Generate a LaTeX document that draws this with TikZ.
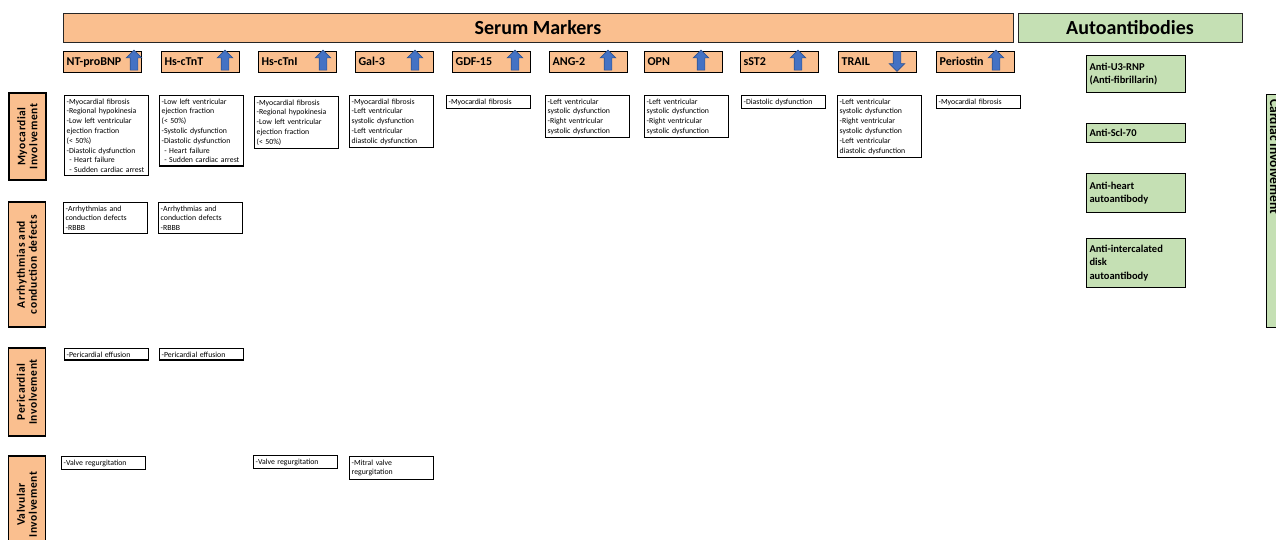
\documentclass[tikz,border=0pt]{standalone}
\usepackage{fontspec}
\setmainfont{Carlito}
\newfontfamily\labfont[LetterSpace=5]{Carlito}
\definecolor{mypeach}{RGB}{250,191,143}
\definecolor{mygreen}{RGB}{197,224,180}
\definecolor{myblue}{RGB}{68,114,196}
\definecolor{mynavy}{RGB}{47,82,143}
\usetikzlibrary{shapes.arrows,positioning}

\begin{document}
\begin{tikzpicture}[
  x=1pt, y=-1pt,
  hdbox/.style={
    draw=black!85,
    line width=1pt,
    minimum height=29pt,
    font=\fontsize{20}{24}\selectfont\bfseries
    },
  mkbox/.style={
    draw,
    line width=1.2pt,
    fill=mypeach,
    anchor=north west,
    minimum height=21pt,
    text width=72pt,
    text height=8.5pt,
    text depth=2.5pt,
    inner xsep=3pt,
    align=left,
    font=\fontsize{12}{14}\selectfont\bfseries
    },
  fxbox/.style={
    draw,
    line width=1.3pt,
    anchor=north west,
    text width=80pt,
    inner xsep=2pt,
    inner ysep=3pt,
    align=left,
    font=\fontsize{7.8}{9.8}\selectfont
    },
  rowlab/.style={
    draw,
    line width=1.6pt,
    fill=mypeach,
    rotate=90,
    minimum height=37pt,
    align=center,
    font=\labfont\fontsize{11.5}{12}\selectfont\bfseries
    },
  abbox/.style={
    draw,
    line width=1pt,
    fill=mygreen,
    anchor=north west,
    text width=93pt,
    inner xsep=3pt,
    align=left,
    font=\fontsize{10.5}{13.3}\selectfont\bfseries
    },
  uparr/.style={
    single arrow,
    draw=mynavy,
    fill=myblue,
    line width=0.6pt,
    rotate=90,
    minimum height=20pt,
    minimum width=15pt,
    inner xsep=0pt,
    inner ysep=3.5pt,
    single arrow head extend=4pt
    },
  dnarr/.style={uparr, rotate=180}
]
\useasboundingbox (0,0) rectangle (1276,539);
\clip (0,0) rectangle (1276,539);

\node [hdbox, fill=mypeach, minimum width=950pt] (serum) at (538,27.5) {Serum Markers};
\node [hdbox, fill=mygreen, minimum width=224pt] (autoab) at (1130,27.5) {Autoantibodies};

\node [mkbox] (ntprobnp) at (63,51) {NT-proBNP};
\node [mkbox] (hsctnt) at (161,51) {Hs-cTnT};
\node [mkbox] (hsctni) at (258,51) {Hs-cTnI};
\node [mkbox] (gal) at (355,51) {Gal-3};
\node [mkbox] (gdf) at (452,51) {GDF-15};
\node [mkbox] (ang) at (549,51) {ANG-2};
\node [mkbox] (opn) at (644,51) {OPN};
\node [mkbox] (sst) at (740,51) {sST2};
\node [mkbox] (trail) at (838,51) {TRAIL};
\node [mkbox] (periostin) at (936,51) {Periostin};

\node [uparr] (ntprobnpup) at (134,62) {};
\node [uparr] (hsctntup) at (225,62) {};
\node [uparr] (hsctniup) at (323,62) {};
\node [uparr] (galup) at (415,62) {};
\node [uparr] (gdfup) at (515,62) {};
\node [uparr] (angup) at (608,62) {};
\node [uparr] (opnup) at (701,62) {};
\node [uparr] (sstup) at (798,62) {};
\node [dnarr] (traildn) at (897,59.5) {};
\node [uparr] (periostinup) at (996,62) {};

\node [rowlab, minimum width=87pt] (myo) at (27.5,136.5) {Myocardial\\Involvement};
\node [rowlab, minimum width=125pt] (arr) at (27,264.5) {Arrhythmias and\\conduction defects};
\node [rowlab, minimum width=88pt] (peri) at (27,392) {Pericardial\\Involvement};
\node [rowlab, minimum width=97pt] (valv) at (27,504.5) {Valvular\\Involvement};

\node [fxbox] (myo1) at (64,95) {-Myocardial fibrosis\\-Regional hypokinesia\\-Low left ventricular\\ejection fraction\\(< 50\%)\\-Diastolic dysfunction\\~- Heart failure\\~- Sudden cardiac arrest};
\node [fxbox] (myo2) at (159,95) {-Low left ventricular\\ejection fraction\\(< 50\%)\\-Systolic dysfunction\\-Diastolic dysfunction\\~- Heart failure\\~- Sudden cardiac arrest};
\node [fxbox] (myo3) at (254,96) {-Myocardial fibrosis\\-Regional hypokinesia\\-Low left ventricular\\ejection fraction\\(< 50\%)};
\node [fxbox] (myo4) at (349,95) {-Myocardial fibrosis\\-Left ventricular\\systolic dysfunction\\-Left ventricular\\diastolic dysfunction};
\node [fxbox] (myo5) at (446,95) {-Myocardial fibrosis};
\node [fxbox] (myo6) at (545,95) {-Left ventricular\\systolic dysfunction\\-Right ventricular\\systolic dysfunction};
\node [fxbox] (myo7) at (644,95) {-Left ventricular\\systolic dysfunction\\-Right ventricular\\systolic dysfunction};
\node [fxbox] (myo8) at (741,95) {-Diastolic dysfunction};
\node [fxbox] (myo9) at (837,95) {-Left ventricular\\systolic dysfunction\\-Right ventricular\\systolic dysfunction\\-Left ventricular\\diastolic dysfunction};
\node [fxbox] (myo10) at (936,95) {-Myocardial fibrosis};

\node [fxbox] (arr1) at (63,202) {-Arrhythmias and\\conduction defects\\-RBBB};
\node [fxbox] (arr2) at (158,202) {-Arrhythmias and\\conduction defects\\-RBBB};

\node [fxbox] (peri1) at (64,348) {-Pericardial effusion};
\node [fxbox] (peri2) at (159,348) {-Pericardial effusion};

\node [fxbox] (valv1) at (61,456) {-Valve regurgitation};
\node [fxbox] (valv3) at (253,455) {-Valve regurgitation};
\node [fxbox] (valv4) at (349,456) {-Mitral valve\\regurgitation};

\node [abbox, minimum height=37pt] (u3rnp) at (1086,55) {Anti-U3-RNP\\(Anti-fibrillarin)};
\node [abbox, minimum height=19pt] (scl) at (1086,123) {Anti-Scl-70};
\node [abbox, minimum height=39pt] (heart) at (1086,173) {Anti-heart\\autoantibody};
\node [abbox, minimum height=49pt] (disk) at (1086,238) {Anti-intercalated\\disk\\autoantibody};

\node [draw, line width=1pt, fill=mygreen, anchor=north west, minimum width=30pt, minimum height=233pt] (cardbar) at (1266,94) {};
\node [rotate=-90, anchor=base west, font=\fontsize{13.5}{15}\selectfont\bfseries] (cardtxt) at (1270,96) {Cardiac Involvement};

\end{tikzpicture}
\end{document}
